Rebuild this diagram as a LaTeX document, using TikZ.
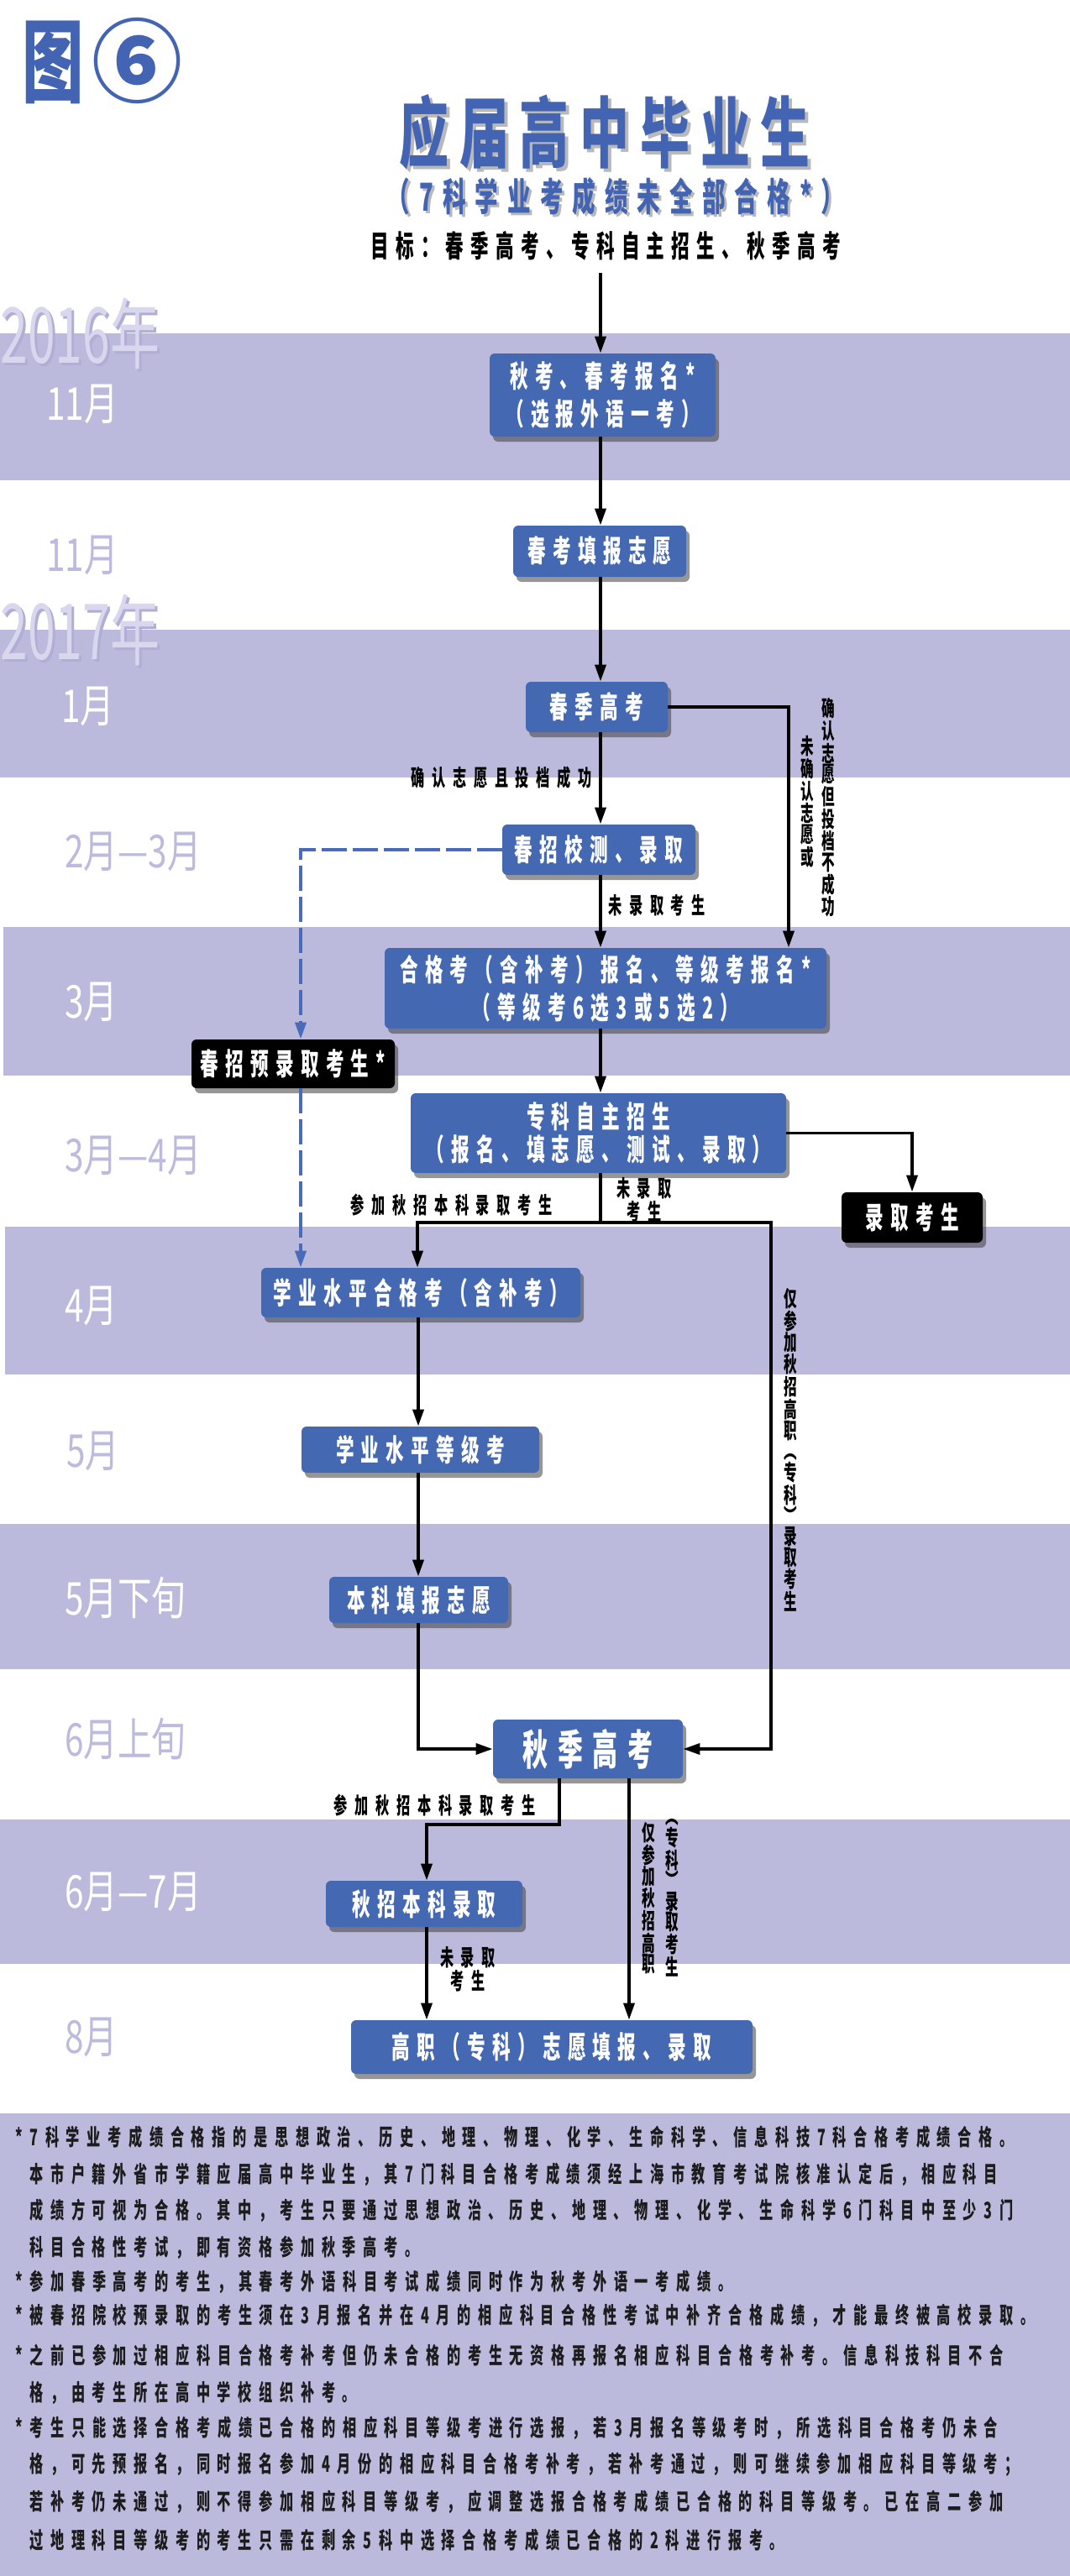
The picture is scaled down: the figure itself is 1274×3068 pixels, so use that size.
\documentclass[tikz,border=0pt]{standalone}
\usepackage{fontspec}
\usetikzlibrary{arrows.meta,shadows,calc}
\newfontfamily\fTitle[FakeStretch=0.64,LetterSpace=14]{Noto Sans CJK SC}
\newfontfamily\fSub[FakeStretch=0.6,LetterSpace=24]{Noto Sans CJK SC}
\newfontfamily\fBox[FakeStretch=0.6,LetterSpace=23]{Noto Sans CJK SC}
\newfontfamily\fNote[FakeStretch=0.6,LetterSpace=32]{Noto Sans CJK SC}
\newfontfamily\fVert[FakeStretch=0.6]{Noto Sans CJK SC}
\newfontfamily\fMonth[FakeStretch=0.75]{Noto Sans CJK SC}
\newfontfamily\fYear[FakeStretch=0.64]{Noto Sans CJK SC}
\newfontfamily\fFig[FakeStretch=0.68]{Noto Sans CJK SC}
\newfontfamily\fPlain{Noto Sans CJK SC}
\definecolor{band}{RGB}{187,185,220}
\definecolor{boxblue}{RGB}{68,104,178}
\definecolor{monthc}{RGB}{188,186,222}
\definecolor{yearc}{RGB}{216,215,237}
\definecolor{yearsh}{RGB}{176,174,212}
\definecolor{titleblue}{RGB}{66,100,178}
\definecolor{titlesh}{RGB}{185,185,185}
\definecolor{dashblue}{RGB}{74,108,184}
\definecolor{notec}{RGB}{28,28,28}
\tikzset{
  box/.style={fill=boxblue, rounded corners=3pt, text=white, align=center, inner sep=0pt,
    font=\fBox\bfseries\fontsize{18}{22.5}\selectfont,
    drop shadow={shadow xshift=2pt, shadow yshift=-3pt, fill=black!75, opacity=0.55}},
  kbox/.style={box, fill=black},
  arr/.style={line width=1.8pt, -{Triangle[length=10pt,width=6.5pt]}},
  ln/.style={line width=1.8pt},
  dsh/.style={line width=2pt, draw=dashblue, dash pattern=on 15pt off 3.5pt,
    -{Triangle[length=10pt,width=6.5pt]}},
  lbl/.style={font=\fNote\bfseries\fontsize{13.5}{11.5}\selectfont, text=black, inner sep=0pt, align=center},
  vlbl/.style={font=\fVert\bfseries\fontsize{13}{12.2}\selectfont, text=black, inner sep=0pt, align=center},
  note/.style={font=\fNote\bfseries\fontsize{13.5}{14}\selectfont, text=notec, inner sep=0pt, anchor=west},
  monthw/.style={font=\fMonth\fontsize{27}{29}\selectfont, text=white, inner sep=0pt, anchor=west},
  monthl/.style={monthw, text=monthc},
  yearlbl/.style={font=\fYear\fontsize{46}{48}\selectfont, inner sep=0pt, anchor=west},
}
\begin{document}
\begin{tikzpicture}[x=0.5pt,y=-0.5pt]
\useasboundingbox (0,0) rectangle (1274,3068);
\fill[white] (0,0) rectangle (1274,3068);
% bands
\fill[band] (0,397) rectangle (1274,572);
\fill[band] (0,750) rectangle (1274,926);
\fill[band] (4,1104) rectangle (1274,1281);
\fill[band] (6,1461) rectangle (1274,1637);
\fill[band] (0,1815) rectangle (1274,1988);
\fill[band] (0,2167) rectangle (1274,2339);
\fill[band] (0,2517) rectangle (1274,3068);
% figure label
\node[anchor=west, inner sep=0pt, text=titleblue] (fig) at (26,73)
  {{\fFig\bfseries\fontsize{54}{56}\selectfont 图}\hspace{5pt}{\fPlain\bfseries\fontsize{54}{56}\selectfont ⑥}};
% titles
\node[text=titlesh, inner sep=0pt, font=\fTitle\bfseries\fontsize{46}{48}\selectfont] (titlesh) at (724,161) {应届高中毕业生};
\node[text=titleblue, inner sep=0pt, font=\fTitle\bfseries\fontsize{46}{48}\selectfont] (title) at (720,157) {应届高中毕业生};
\node[text=titlesh, inner sep=0pt, font=\fSub\bfseries\fontsize{23}{25}\selectfont] (subsh) at (736,237) {（7科学业考成绩未全部合格*）};
\node[text=titleblue, inner sep=0pt, font=\fSub\bfseries\fontsize{23}{25}\selectfont] (sub) at (733,234) {（7科学业考成绩未全部合格*）};
\node[text=black, inner sep=0pt, font=\fBox\bfseries\fontsize{18}{20}\selectfont] (goal) at (721,293) {目标：春季高考、专科自主招生、秋季高考};
% years and months
\node[yearlbl, text=yearsh] (y16s) at (3,400) {2016年};
\node[yearlbl, text=yearc] (y16) at (0,397) {2016年};
\node[yearlbl, text=yearsh] (y17s) at (3,753) {2017年};
\node[yearlbl, text=yearc] (y17) at (0,750) {2017年};
\node[monthw] (m1) at (55,481) {11月};
\node[monthl] (m2) at (55,661) {11月};
\node[monthw] (m3) at (73,841) {1月};
\node[monthl] (m4) at (77,1014) {2月—3月};
\node[monthw] (m5) at (77,1193) {3月};
\node[monthl] (m6) at (77,1376) {3月—4月};
\node[monthw] (m7) at (77,1555) {4月};
\node[monthl] (m8) at (79,1728) {5月};
\node[monthw] (m9) at (77,1903) {5月下旬};
\node[monthl] (m10) at (77,2071) {6月上旬};
\node[monthw] (m11) at (77,2253) {6月—7月};
\node[monthl] (m12) at (77,2426) {8月};
% boxes
\node[box, minimum width=134.5pt, minimum height=49.5pt] (b1) at (717.5,470.5) {秋考、春考报名*\\（选报外语一考）};
\node[box, minimum width=103pt, minimum height=30.5pt] (b2) at (714,656.5) {春考填报志愿};
\node[box, minimum width=84.5pt, minimum height=30pt] (b3) at (710.5,842) {春季高考};
\node[box, minimum width=115pt, minimum height=30pt] (b4) at (713,1012) {春招校测、录取};
\node[box, minimum width=263pt, minimum height=48pt] (b5) at (721,1177) {合格考（含补考）报名、等级考报名*\\（等级考6选3或5选2）};
\node[kbox, minimum width=121pt, minimum height=29pt] (k1) at (349,1267) {春招预录取考生*};
\node[box, minimum width=223.5pt, minimum height=47.5pt, font=\fBox\bfseries\fontsize{18}{19.5}\selectfont] (b6) at (712.5,1349.5) {专科自主招生\\（报名、填志愿、测试、录取）};
\node[kbox, minimum width=84pt, minimum height=30pt] (k2) at (1086,1450) {录取考生};
\node[box, minimum width=190pt, minimum height=29.5pt] (b7) at (501,1539.5) {学业水平合格考（含补考）};
\node[box, minimum width=141.5pt, minimum height=27.5pt] (b8) at (500.5,1726.5) {学业水平等级考};
\node[box, minimum width=106.5pt, minimum height=27.5pt] (b9) at (498.5,1905.5) {本科填报志愿};
\node[box, minimum width=113pt, minimum height=35pt, font=\fBox\bfseries\fontsize{25}{27}\selectfont] (b10) at (700,2083) {秋季高考};
\node[box, minimum width=117pt, minimum height=27.5pt] (b11) at (505,2267.5) {秋招本科录取};
\node[box, minimum width=239pt, minimum height=32pt] (b12) at (657,2438) {高职（专科）志愿填报、录取};
% helper coordinates
\coordinate (sp) at (715,0);
\coordinate (rx) at (939,0);
\coordinate (dx) at (358,0);
\coordinate (j1) at (715,1456);
\coordinate (lx) at (497,0);
\coordinate (rx2) at (918,0);
\coordinate (mx) at (498,0);
\coordinate (qx) at (666,0);
\coordinate (j2) at (666,2173);
\coordinate (sx) at (508,0);
\coordinate (vx) at (749,0);
% connectors
\draw[arr] (goal.south -| sp) ++(0,14) -- (b1.north -| sp);
\draw[arr] (b1.south -| sp) -- (b2.north -| sp);
\draw[arr] (b2.south -| sp) -- (b3.north -| sp);
\draw[arr] (b3.south -| sp) -- (b4.north -| sp);
\draw[arr] (b3.east) -| (b5.north -| rx);
\draw[arr] (b4.south -| sp) -- (b5.north -| sp);
\draw[dsh] (b4.west) -| (k1.north -| dx);
\draw[dsh] (k1.south -| dx) -- (b7.north -| dx);
\draw[arr] (b5.south -| sp) -- (b6.north -| sp);
\draw[arr] (b6.east) -| (k2.north);
\draw[ln] (b6.south -| sp) -- (j1);
\draw[arr] (j1) -| (b7.north -| lx);
\draw[arr] (j1) -| (b10.east -| rx2) -- (b10.east);
\draw[arr] (b7.south -| mx) -- (b8.north -| mx);
\draw[arr] (b8.south -| mx) -- (b9.north -| mx);
\draw[arr] (b9.south -| mx) |- (b10.west);
\draw[arr] (b10.south -| qx) -- (j2) -| (b11.north -| sx);
\draw[arr] (b11.south -| sx) -- (b12.north -| sx);
\draw[arr] (b10.south -| vx) -- (b12.north -| vx);
% connector labels
\node[lbl, anchor=east] (l1) at (705,926) {确认志愿且投档成功};
\node[lbl, anchor=west] (l2) at (724,1078) {未录取考生};
\node[vlbl] (l3a) at (986,962) {确\\认\\志\\愿\\但\\投\\档\\不\\成\\功};
\node[vlbl] (l3b) at (961,955) {未\\确\\认\\志\\愿\\或};
\node[lbl, anchor=east] (l4) at (658,1435) {参加秋招本科录取考生};
\node[lbl] (l5) at (767,1429) {未录取\\考生};
\node[vlbl] (l6) at (941,1727) {仅\\参\\加\\秋\\招\\高\\职\\︵\\专\\科\\︶\\录\\取\\考\\生};
\node[lbl, anchor=east] (l7) at (638,2150) {参加秋招本科录取考生};
\node[lbl] (l8) at (557,2345) {未录取\\考生};
\node[vlbl] (l9a) at (772,2261) {仅\\参\\加\\秋\\招\\高\\职};
\node[vlbl] (l9b) at (800,2260) {︵\\专\\科\\︶\\录\\取\\考\\生};
% footnotes
\node[note] (n1) at (18,2545) {*7科学业考成绩合格指的是思想政治、历史、地理、物理、化学、生命科学、信息科技7科合格考成绩合格。};
\node[note] (n2) at (35,2590) {本市户籍外省市学籍应届高中毕业生，其7门科目合格考成绩须经上海市教育考试院核准认定后，相应科目};
\node[note] (n3) at (35,2633) {成绩方可视为合格。其中，考生只要通过思想政治、历史、地理、物理、化学、生命科学6门科目中至少3门};
\node[note] (n4) at (35,2677) {科目合格性考试，即有资格参加秋季高考。};
\node[note] (n5) at (18,2718) {*参加春季高考的考生，其春考外语科目考试成绩同时作为秋考外语一考成绩。};
\node[note] (n6) at (18,2758) {*被春招院校预录取的考生须在3月报名并在4月的相应科目合格性考试中补齐合格成绩，才能最终被高校录取。};
\node[note] (n7) at (18,2805) {*之前已参加过相应科目合格考补考但仍未合格的考生无资格再报名相应科目合格考补考。信息科技科目不合};
\node[note] (n8) at (35,2850) {格，由考生所在高中学校组织补考。};
\node[note] (n9) at (18,2892) {*考生只能选择合格考成绩已合格的相应科目等级考进行选报，若3月报名等级考时，所选科目合格考仍未合};
\node[note] (n10) at (35,2935) {格，可先预报名，同时报名参加4月份的相应科目合格考补考，若补考通过，则可继续参加相应科目等级考；};
\node[note] (n11) at (35,2980) {若补考仍未通过，则不得参加相应科目等级考，应调整选报合格考成绩已合格的科目等级考。已在高二参加};
\node[note] (n12) at (35,3025) {过地理科目等级考的考生只需在剩余5科中选择合格考成绩已合格的2科进行报考。};
\end{tikzpicture}
\end{document}
